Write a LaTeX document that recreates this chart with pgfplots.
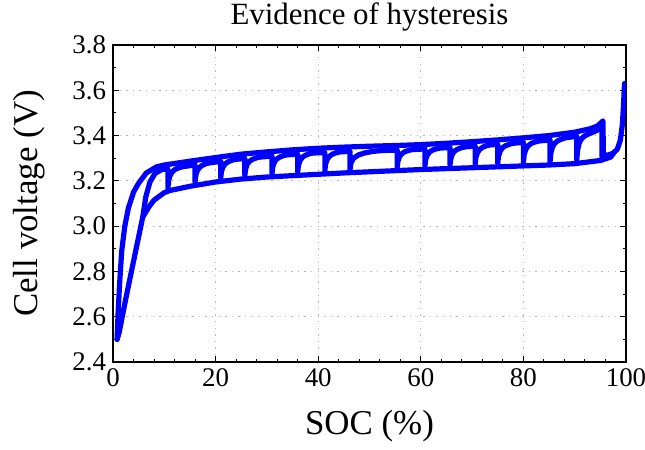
\documentclass[border=0pt]{standalone}
\usepackage{fontspec}
\setmainfont{Liberation Serif}
\usepackage{pgfplots}
\pgfplotsset{compat=1.18}
\definecolor{lineblue}{RGB}{0,0,255}
\tikzset{bl/.style={lineblue, line width=2.6bp, line join=round, line cap=round, mark=none}}
\begin{document}
\begin{tikzpicture}
\begin{axis}[
  name=ax,
  scale only axis,
  width=256.5bp, height=158.5bp,
  xmin=0, xmax=100, ymin=2.4, ymax=3.8,
  xtick={0,20,40,60,80,100},
  ytick={2.4,2.6,2.8,3.0,3.2,3.4,3.6,3.8},
  minor x tick num=4, minor y tick num=1,
  tick align=inside, tick pos=both,
  major tick length=3bp, minor tick length=1.6bp,
  every tick/.style={black, line width=0.5bp},
  axis line style={black, line width=1bp},
  grid=major,
  major grid style={gray!55, line width=0.5bp, dash pattern=on 0.7bp off 2.6bp},
  /pgf/number format/assume math mode=true,
  yticklabel style={/pgf/number format/fixed, /pgf/number format/fixed zerofill, /pgf/number format/precision=1},
  ticklabel style={font=\fontsize{13.5}{14}\selectfont},
  every axis title shift=0pt,
  title={Evidence of hysteresis},
  title style={at={(axis description cs:0.5,1.066)}, anchor=base, font=\fontsize{15.5}{16}\selectfont},
  xlabel={SOC (\%)},
  xlabel style={at={(axis description cs:0.5,-0.23)}, anchor=base, font=\fontsize{17.5}{18}\selectfont},
  ylabel={Cell voltage (V)},
  ylabel style={at={(axis description cs:-0.148,0.5)}, anchor=base, font=\fontsize{17.5}{18}\selectfont},
]
% outer charge curve, drop and full-charge spike
\addplot[bl] coordinates {
(0.8,2.50) (1.0,2.62) (1.3,2.75) (1.7,2.89) (2.3,3.00) (3.0,3.08) (4.0,3.15) (5.0,3.19) (6.5,3.235) (8.5,3.262)
(10,3.27) (15,3.287) (20,3.303) (25,3.318) (30,3.328) (35,3.337) (40,3.344) (45,3.349) (50,3.353) (55,3.356)
(60,3.36) (65,3.366) (70,3.373) (75,3.381) (80,3.39) (85,3.40) (90,3.415) (93,3.43) (94.5,3.443) (95.5,3.465)
(95.6,3.315) (96.5,3.314) (97.5,3.322) (98.3,3.34) (98.9,3.38) (99.3,3.45) (99.55,3.55) (99.7,3.63)
};
% discharge curve
\addplot[bl] coordinates {
(97.5,3.32) (97,3.305) (95,3.29) (90,3.276) (85,3.27) (80,3.266) (75,3.262) (70,3.258) (65,3.254) (60,3.25)
(55,3.245) (50,3.240) (45,3.235) (40,3.229) (35,3.223) (30,3.217) (25,3.208) (20,3.195) (15,3.176) (11,3.157)
(10,3.148) (8,3.115) (7,3.085) (5.8,3.04) (4.6,2.91) (3.5,2.79) (2.5,2.68) (1.8,2.60) (1.2,2.53) (0.8,2.50)
};
% partial cycles
\addplot[bl] coordinates {
(5.8,3.04) (6.4,3.13) (7.2,3.195) (8.2,3.233) (9.5,3.25) (10.7,3.252) (10.7,3.169)
(10.85,3.202) (11.15,3.225) (11.6,3.241) (12.2,3.252) (13.0,3.259) (13.7,3.263) (16,3.270) (16,3.195)
(16.15,3.225) (16.45,3.246) (16.9,3.260) (17.5,3.270) (18.3,3.277) (19,3.280) (21,3.286) (21,3.213)
(21.15,3.242) (21.45,3.262) (21.9,3.276) (22.5,3.285) (23.3,3.292) (24,3.295) (25.7,3.299) (25.7,3.224)
(25.85,3.252) (26.15,3.273) (26.6,3.286) (27.2,3.295) (28,3.302) (28.7,3.305) (31,3.310) (31,3.233)
(31.15,3.262) (31.45,3.282) (31.9,3.296) (32.5,3.305) (33.3,3.312) (34,3.315) (36,3.318) (36,3.239)
(36.15,3.268) (36.45,3.289) (36.9,3.304) (37.5,3.313) (38.3,3.320) (39,3.323) (41.3,3.325) (41.3,3.246)
(41.45,3.275) (41.75,3.295) (42.2,3.309) (42.8,3.318) (43.6,3.325) (44.3,3.328) (46.2,3.330) (46.2,3.251)
(46.4,3.280) (46.9,3.300) (47.8,3.314) (49,3.323) (50.6,3.330) (52.5,3.334) (55.4,3.336) (55.4,3.260)
(55.55,3.287) (55.85,3.307) (56.3,3.320) (56.9,3.329) (57.7,3.335) (58.4,3.338) (60.8,3.341) (60.8,3.266)
(60.95,3.294) (61.25,3.313) (61.7,3.327) (62.3,3.336) (63.1,3.342) (63.8,3.345) (65.7,3.347) (65.7,3.270)
(65.85,3.298) (66.15,3.318) (66.6,3.332) (67.2,3.340) (68,3.347) (68.7,3.350) (70.6,3.354) (70.6,3.274)
(70.75,3.304) (71.05,3.325) (71.5,3.339) (72.1,3.349) (72.9,3.356) (73.6,3.359) (75,3.361) (75,3.277)
(75.15,3.308) (75.45,3.330) (75.9,3.346) (76.5,3.355) (77.3,3.362) (78,3.366) (80,3.37) (80,3.281)
(80.15,3.314) (80.45,3.338) (80.9,3.354) (81.5,3.365) (82.3,3.372) (83,3.376) (85.2,3.381) (85.2,3.285)
(85.35,3.322) (85.65,3.348) (86.1,3.366) (86.7,3.377) (87.5,3.385) (88.2,3.390) (90.4,3.397) (90.4,3.292)
(90.55,3.334) (90.85,3.365) (91.3,3.385) (91.9,3.398) (92.7,3.407) (93.4,3.413) (94.5,3.425) (95.3,3.44) (95.3,3.305)
};
\end{axis}
\path (ax.south west) ++(-56.5bp,-44bp) coordinate (bl);
\pgfresetboundingbox
\useasboundingbox (bl) rectangle ++(322.5bp,225bp);
\end{tikzpicture}
\end{document}
